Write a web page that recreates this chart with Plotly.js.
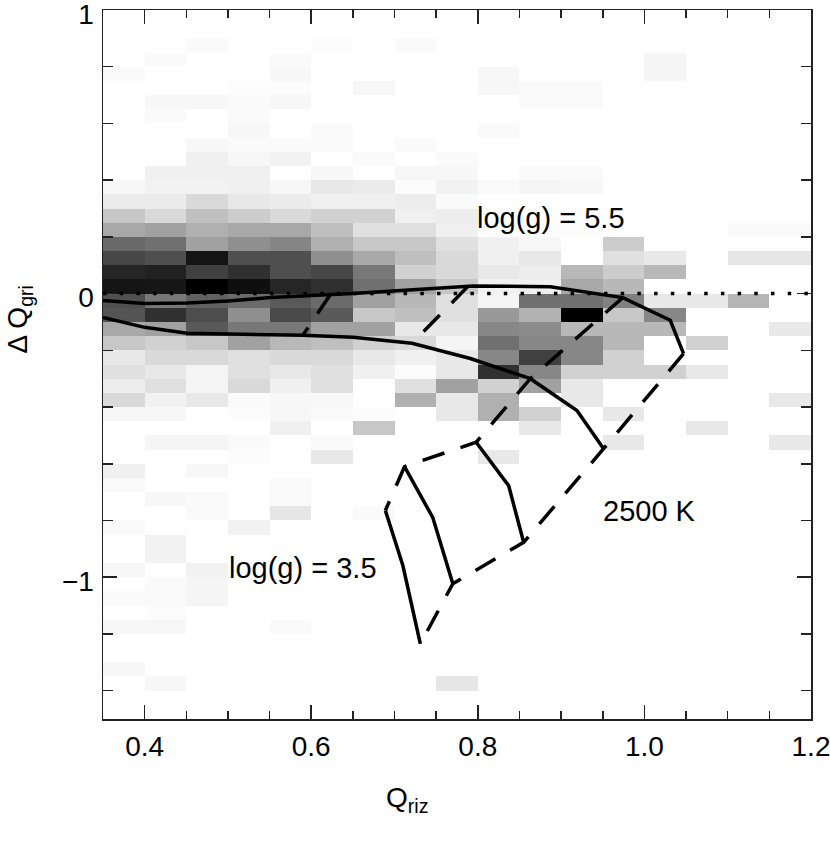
<!DOCTYPE html>
<html>
<head>
<meta charset="utf-8">
<script src="https://cdn.plot.ly/plotly-3.0.1.min.js"></script>
<style>
  html, body { margin: 0; padding: 0; background: #fff; }
  #chart { width: 830px; height: 844px; }
</style>
</head>
<body>
<div id="chart"></div>
<script>
// Q_riz vs Delta Q_gri: 2D density of the sample with model grid overlaid.
// Heatmap values are darkness (0 = empty, 100 = black).

// x bin centres (bins 0.05 wide, 0.35 .. 1.20)
const xBins = [0.375, 0.425, 0.475, 0.525, 0.575, 0.625, 0.675, 0.725, 0.775,
               0.825, 0.875, 0.925, 0.975, 1.025, 1.075, 1.125, 1.175];

// rows from top (0.95..1.00) to bottom (-1.50..-1.45), 0.05 tall each
const densityRows = [
  [0,0,0,0,0,0,0,0,0,0,0,0,0,0,0,0,0],
  [0,0,0,0,0,0,0,0,0,0,0,0,0,0,0,0,0],
  [0,0,2,0,0,1,0,2,0,0,0,0,0,0,0,0,0],
  [0,2,0,0,2,0,0,0,0,0,0,0,0,4,0,0,0],
  [2,0,0,0,3,0,0,0,0,3,0,0,0,4,0,0,0],
  [0,0,0,1,1,0,3,0,0,3,2,2,0,0,0,0,0],
  [0,3,3,2,3,0,0,0,0,0,2,2,0,0,0,0,0],
  [0,2,0,2,0,0,0,0,0,0,0,0,0,0,0,0,0],
  [0,0,0,3,0,2,0,0,0,2,0,0,0,0,0,0,0],
  [0,0,3,2,2,2,0,2,0,0,0,0,0,0,0,0,0],
  [0,0,6,3,5,0,2,0,2,0,0,0,0,0,0,0,0],
  [0,6,6,6,0,3,0,3,3,0,2,2,0,0,0,0,0],
  [3,5,5,6,3,9,8,1,5,2,4,3,0,0,0,0,0],
  [8,8,15,9,8,6,6,7,2,0,0,0,0,0,0,0,0],
  [22,15,25,20,15,18,18,6,7,0,0,0,0,0,0,0,0],
  [34,37,31,34,34,25,12,12,6,0,1,1,0,0,0,2,2],
  [59,56,37,44,48,31,22,22,12,6,3,0,20,0,0,0,0],
  [72,69,92,69,69,44,34,25,15,6,9,0,12,9,0,10,10],
  [85,87,75,81,69,72,53,18,15,9,7,28,20,28,0,0,0],
  [92,91,100,94,85,81,56,37,22,5,6,34,28,0,0,0,0],
  [69,53,62,58,65,58,37,28,12,4,56,56,50,9,9,29,0],
  [67,81,70,44,71,65,22,25,12,40,30,100,22,47,0,0,0],
  [34,37,65,53,53,37,37,9,9,47,45,28,28,28,0,0,9],
  [22,18,22,37,28,25,18,15,4,56,47,47,28,0,18,0,0],
  [9,15,15,12,15,15,9,6,9,47,75,47,18,0,0,0,0],
  [12,9,4,12,9,12,6,1,9,81,47,18,18,18,9,0,0],
  [7,12,4,15,6,12,0,12,37,18,37,9,0,0,0,0,0],
  [15,5,9,2,3,3,0,31,9,31,0,9,0,0,0,0,9],
  [3,3,0,1,3,2,1,0,9,31,18,0,9,0,0,0,0],
  [0,0,0,0,6,0,22,0,0,0,9,0,0,0,9,0,0],
  [0,4,4,2,0,2,0,0,0,0,0,0,9,0,0,0,9],
  [0,0,0,1,0,9,0,0,0,9,0,0,0,0,0,0,0],
  [6,0,3,0,0,0,0,0,0,0,0,0,0,0,0,0,0],
  [2,0,0,0,2,0,0,0,0,0,0,0,0,0,0,0,0],
  [0,3,2,0,2,0,0,0,0,0,0,0,0,0,0,0,0],
  [0,0,2,0,10,0,2,0,0,0,0,0,0,0,0,0,0],
  [2,0,0,5,0,0,0,0,0,0,0,0,0,0,0,0,0],
  [0,5,0,0,0,0,0,0,0,0,0,0,0,0,0,0,0],
  [0,5,0,0,0,0,0,0,0,0,0,0,0,0,0,0,0],
  [3,0,5,0,0,0,0,0,0,0,0,0,0,0,0,0,0],
  [0,2,4,0,0,0,0,0,0,0,0,0,0,0,0,0,0],
  [2,2,4,0,0,0,0,0,0,0,0,0,0,0,0,0,0],
  [0,1,0,0,0,0,0,0,0,0,0,0,0,0,0,0,0],
  [3,3,0,0,2,0,0,0,0,0,0,0,0,0,0,0,0],
  [0,0,0,0,0,0,0,0,0,0,0,0,0,0,0,0,0],
  [0,0,0,0,0,0,0,0,0,0,0,0,0,0,0,0,0],
  [3,0,0,0,0,0,0,0,0,0,0,0,0,0,0,0,0],
  [0,3,0,0,0,0,0,0,10,0,0,0,0,0,0,0,0],
  [0,0,0,0,0,0,0,0,0,0,0,0,0,0,0,0,0],
  [0,0,0,0,0,0,0,0,0,0,0,0,0,0,0,0,0]
];

// model tracks at constant log(g) (solid)
const logg55X = [0.35, 0.400, 0.451, 0.500, 0.551, 0.601, 0.650, 0.794, 0.887, 0.974, 1.031, 1.047];
const logg55Y = [-0.024, -0.035, -0.033, -0.026, -0.014, -0.006, 0.000, 0.027, 0.024, -0.014, -0.094, -0.212];
const logg50X = [0.35, 0.400, 0.451, 0.590, 0.650, 0.721, 0.791, 0.863, 0.919, 0.951];
const logg50Y = [-0.084, -0.119, -0.140, -0.147, -0.154, -0.175, -0.229, -0.300, -0.412, -0.547];
const logg45X = [0.798, 0.837, 0.855];
const logg45Y = [-0.524, -0.677, -0.877];
const logg40X = [0.712, 0.746, 0.770];
const logg40Y = [-0.610, -0.790, -1.023];
const logg35X = [0.689, 0.710, 0.731];
const logg35Y = [-0.765, -0.959, -1.235];

// isotherms (dashed), coolest one is 2500 K
const iso1X = [0.623, 0.590];
const iso1Y = [-0.003, -0.147];
const iso2X = [0.788, 0.721];
const iso2Y = [0.025, -0.175];
const iso3X = [0.974, 0.863, 0.798, 0.712, 0.689];
const iso3Y = [-0.014, -0.300, -0.524, -0.610, -0.765];
const iso2500X = [1.047, 0.951, 0.855, 0.770, 0.731];
const iso2500Y = [-0.212, -0.547, -0.877, -1.023, -1.235];

const FONT = 'Liberation Sans, Arial, Helvetica, sans-serif';
const INK = '#222';

const solid  = { color: 'black', width: 3.5 };
const dashed = { color: 'black', width: 3.5, dash: '23px,17px' };

const line = (x, y, style) => ({
  x, y, type: 'scatter', mode: 'lines', line: style,
  hoverinfo: 'skip', showlegend: false
});

const traces = [
  {
    type: 'heatmap', x: xBins, y0: -1.475, dy: 0.05,
    z: densityRows.slice().reverse(),
    colorscale: [[0, '#ffffff'], [1, '#000000']],
    zmin: 0, zmax: 100, showscale: false, hoverinfo: 'skip'
  },
  line(logg55X, logg55Y, solid),
  line(logg50X, logg50Y, solid),
  line(logg45X, logg45Y, solid),
  line(logg40X, logg40Y, solid),
  line(logg35X, logg35Y, solid),
  line(iso1X, iso1Y, dashed),
  line(iso2X, iso2Y, dashed),
  line(iso3X, iso3Y, dashed),
  line(iso2500X, iso2500Y, dashed)
];

const axisCommon = {
  ticks: 'inside', ticklen: 14, tickwidth: 1.5, tickcolor: INK,
  showline: true, linecolor: INK, linewidth: 1.5, mirror: 'ticks',
  showgrid: false, zeroline: false, ticklabeloverflow: 'allow',
  tickfont: { family: FONT, size: 28, color: 'black' }
};

const textFont = { family: FONT, size: 29, color: 'black' };
const note = (x, y, text) => ({
  x, y, xref: 'x', yref: 'y', text, showarrow: false,
  xanchor: 'center', yanchor: 'middle', font: textFont
});

const layout = {
  width: 830, height: 844,
  margin: { l: 103, r: 19, t: 10, b: 125 },
  paper_bgcolor: 'white', plot_bgcolor: 'white',
  showlegend: false,
  xaxis: Object.assign({}, axisCommon, {
    range: [0.35, 1.2], tick0: 0, dtick: 0.2, tickformat: '.1f',
    ticklabelstandoff: 2,
    minor: { dtick: 0.05, ticks: 'inside', ticklen: 8, tickwidth: 1.5, tickcolor: INK, showgrid: false }
  }),
  yaxis: Object.assign({}, axisCommon, {
    range: [-1.5, 1], tick0: 0, dtick: 1,
    ticklabelstandoff: 2, ticklabelshift: 4,
    minor: { dtick: 0.2, ticks: 'inside', ticklen: 10, tickwidth: 1.5, tickcolor: INK, showgrid: false }
  }),
  shapes: [
    { type: 'line', xref: 'paper', x0: 0, x1: 1, yref: 'y', y0: 0, y1: 0,
      line: { color: 'black', width: 3.5, dash: '3.5px,13.2px' } }
  ],
  annotations: [
    note(0.888, 0.266, 'log(g) = 5.5'),
    note(1.006, -0.768, '2500 K'),
    note(0.590, -0.966, 'log(g) = 3.5'),
    // axis titles sit off-centre in the original, so place them by hand
    { x: 0.429, y: -0.114, xref: 'paper', yref: 'paper', text: 'Q<sub>riz</sub>',
      xanchor: 'center', yanchor: 'middle', showarrow: false,
      font: { family: FONT, size: 28, color: 'black' } },
    { x: -0.118, y: 0.564, xref: 'paper', yref: 'paper', text: 'Δ Q<sub>gri</sub>',
      xanchor: 'center', yanchor: 'middle', textangle: -90, showarrow: false,
      font: { family: FONT, size: 28, color: 'black' } }
  ]
};

Plotly.newPlot('chart', traces, layout, { staticPlot: true });
</script>
</body>
</html>
